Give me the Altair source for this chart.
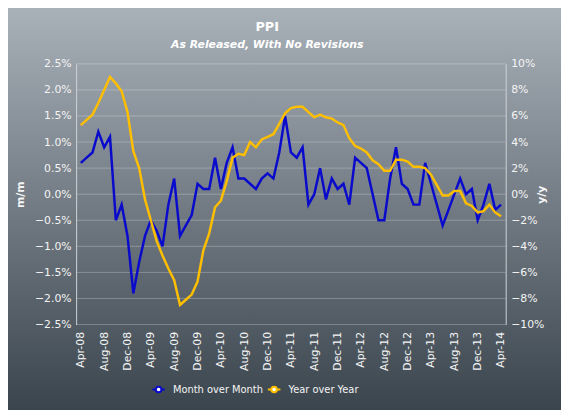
import altair as alt
import pandas as pd

months = list(pd.date_range("2008-04-01", periods=73, freq="MS").strftime("%b-%y"))

mom = [0.6, 0.7, 0.8, 1.2, 0.9, 1.1, -0.5, -0.2, -0.8, -1.9,
       -1.3, -0.8, -0.5, -0.7, -1.0, -0.2, 0.3, -0.8, -0.6, -0.4,
       0.2, 0.1, 0.1, 0.7, 0.1, 0.6, 0.9, 0.3, 0.3, 0.2,
       0.1, 0.3, 0.4, 0.3, 0.8, 1.5, 0.8, 0.7, 0.9, -0.2,
       0.0, 0.5, -0.1, 0.3, 0.1, 0.2, -0.2, 0.7, 0.6, 0.5,
       0.0, -0.5, -0.5, 0.3, 0.9, 0.2, 0.1, -0.2, -0.2, 0.6,
       0.2, -0.2, -0.6, -0.3, 0.0, 0.3, 0.0, 0.1, -0.5, -0.2,
       0.2, -0.3, -0.2]

yoy = [5.3, 5.7, 6.1, 7.0, 8.0, 9.0, 8.5, 7.9, 6.3, 3.3,
       2.0, -0.4, -2.0, -3.6, -4.7, -5.7, -6.6, -8.5, -8.1, -7.7,
       -6.7, -4.3, -3.0, -1.0, -0.5, 1.0, 2.8, 3.1, 3.0, 4.0,
       3.6, 4.2, 4.4, 4.6, 5.4, 6.2, 6.6, 6.7, 6.7, 6.3,
       5.9, 6.1, 5.9, 5.8, 5.5, 5.3, 4.3, 3.7, 3.5, 3.2,
       2.6, 2.3, 1.8, 1.8, 2.65, 2.65, 2.5, 2.1, 2.1, 2.0,
       1.5, 0.7, -0.1, -0.1, 0.25, 0.25, -0.7, -0.9, -1.4, -1.3,
       -0.8, -1.4, -1.7]

series_names = ["Month over Month", "Year over Year"]
series_colors = ["#0a0acc", "#ffbf00"]
mm_ticks = [-2.5, -2.0, -1.5, -1.0, -0.5, 0.0, 0.5, 1.0, 1.5, 2.0, 2.5]
yy_ticks = [-10, -8, -6, -4, -2, 0, 2, 4, 6, 8, 10]

df = pd.DataFrame({"month": months, "mm": mom, "yy": yoy})
grid_df = pd.DataFrame({"v": mm_ticks})

FONT = "DejaVu Sans"
TXT = "#f4f4f4"
FRAME = "#cdd3d9"
W, H = 435, 264
PAD = {"left": 69, "top": 54, "right": 56, "bottom": 84}

x_enc = alt.X(
    "month:O", sort=months, title=None,
    scale=alt.Scale(type="point", padding=0.8),
    axis=alt.Axis(values=months[::4], labelAngle=270, ticks=False, domain=False,
                  labelFont=FONT, labelFontSize=11, labelColor=TXT, labelPadding=7,
                  zindex=1),
)

color_enc = alt.Color(
    "series:N",
    scale=alt.Scale(domain=series_names, range=series_colors),
    legend=alt.Legend(
        title=None, orient="none", direction="horizontal", legendX=76, legendY=322,
        symbolType="M-1,0H-0.45M0.45,0H1M0.45,0A0.45,0.45,0,1,1,-0.45,0A0.45,0.45,0,1,1,0.45,0",
        symbolSize=160, symbolStrokeWidth=2, symbolFillColor="white",
        labelFont=FONT, labelFontSize=10, labelColor=TXT, labelOffset=7, columnPadding=0,
    ),
)

bg = alt.Chart(alt.Data(values=[{}])).mark_rect(
    clip=False,
    fill=alt.LinearGradient(
        gradient="linear", x1=0, x2=0, y1=0, y2=1,
        stops=[alt.GradientStop(color="#aab2ba", offset=0),
               alt.GradientStop(color="#39434c", offset=1)],
    ),
).encode(
    x=alt.value(-PAD["left"] - 8), x2=alt.value(W + PAD["right"] + 8),
    y=alt.value(-PAD["top"] - 8), y2=alt.value(H + PAD["bottom"] + 8),
)

grid = alt.Chart(grid_df).mark_rule(color="#ffffff", opacity=0.25, strokeWidth=1).encode(
    y=alt.Y("v:Q", scale=alt.Scale(domain=[-2.5, 2.5], nice=False, zero=False), axis=None),
)

mm_line = alt.Chart(df).transform_calculate(series="'Month over Month'").mark_line(
    strokeWidth=2.5).encode(
    x=x_enc,
    y=alt.Y("mm:Q", title="m/m",
            scale=alt.Scale(domain=[-2.5, 2.5], nice=False, zero=False),
            axis=alt.Axis(orient="left", values=mm_ticks,
                          labelExpr="format(datum.value, '.1f') + '%'",
                          ticks=False, domain=True, domainColor=FRAME, grid=False,
                          labelFont=FONT, labelFontSize=11, labelColor=TXT, labelPadding=5,
                          titleFont=FONT, titleFontSize=11, titleFontWeight="bold",
                          titleColor=TXT, titlePadding=9, zindex=1)),
    color=color_enc,
)

yy_line = alt.Chart(df).transform_calculate(series="'Year over Year'").mark_line(
    strokeWidth=2.5).encode(
    x=x_enc,
    y=alt.Y("yy:Q", title="y/y",
            scale=alt.Scale(domain=[-10, 10], nice=False, zero=False),
            axis=alt.Axis(orient="right", values=yy_ticks,
                          labelExpr="format(datum.value, '.0f') + '%'",
                          ticks=False, domain=True, domainColor=FRAME, grid=False,
                          labelFont=FONT, labelFontSize=11, labelColor=TXT, labelPadding=5,
                          titleFont=FONT, titleFontSize=11, titleFontWeight="bold",
                          titleColor=TXT, titlePadding=3, titleAngle=270, zindex=1)),
    color=color_enc,
)

chart = alt.layer(bg, grid, mm_line, yy_line).resolve_scale(y="independent").properties(
    width=W, height=H,
    padding=PAD,
    autosize=alt.AutoSizeParams(type="none"),
    background="#6a737c",
    title=alt.TitleParams(
        text="PPI", subtitle="As Released, With No Revisions",
        font=FONT, fontSize=13, fontWeight="bold", color="white",
        subtitleFont=FONT, subtitleFontSize=11, subtitleFontStyle="italic",
        subtitleFontWeight="bold", subtitleColor="white", subtitlePadding=5,
        anchor="middle", frame="group", dx=-24, offset=8, dy=56,
    ),
).configure_view(strokeWidth=0)

chart.save("out.html", embed_options={"renderer": "svg", "actions": False})
